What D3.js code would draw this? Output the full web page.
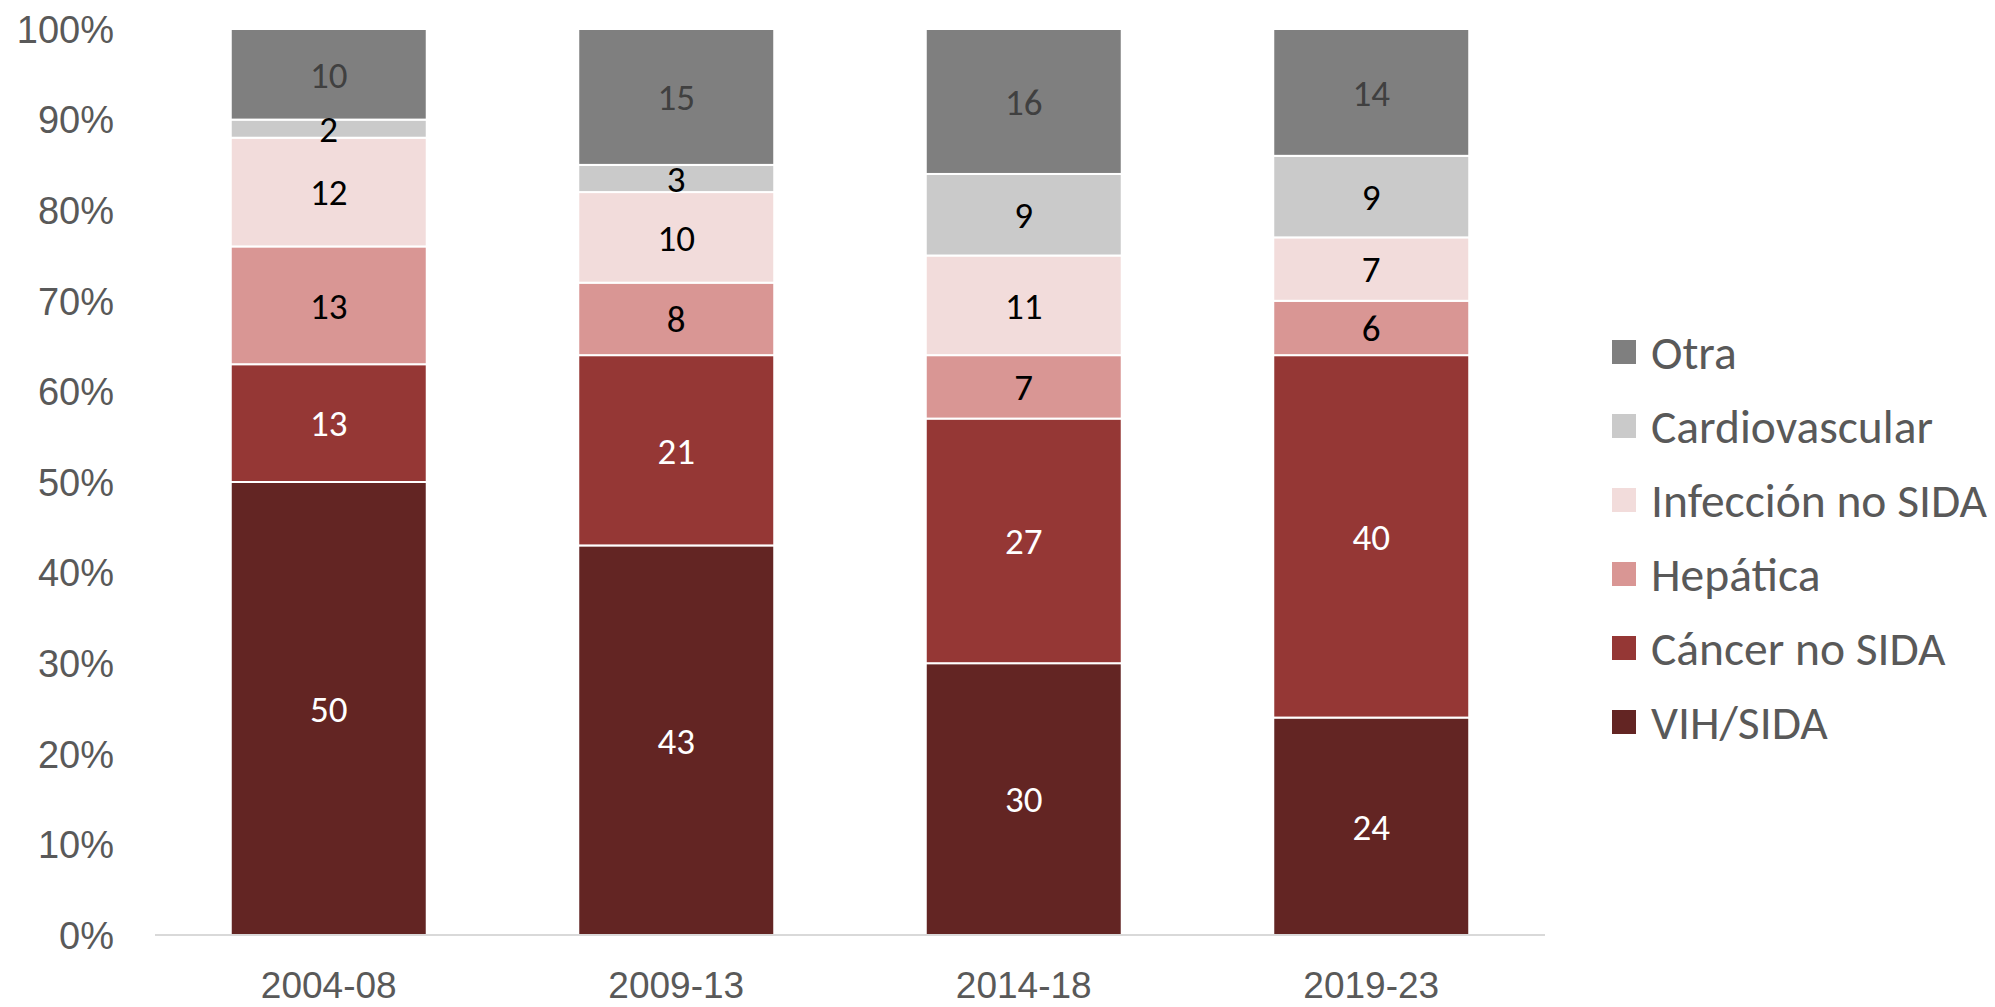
<!DOCTYPE html>
<html>
<head>
<meta charset="utf-8">
<script src="https://cdn.jsdelivr.net/npm/d3@7"></script>
<style>
  html, body { margin: 0; padding: 0; background: #fff; }
  svg { display: block; }
</style>
</head>
<body>
<svg id="chart" width="1995" height="1007"></svg>
<script>
const periods = ["2004-08", "2009-13", "2014-18", "2019-23"];
const seriesNames = ["VIH/SIDA", "Cáncer no SIDA", "Hepática", "Infección no SIDA", "Cardiovascular", "Otra"];
const vihSida      = [50, 43, 30, 24];
const cancerNoSida = [13, 21, 27, 40];
const hepatica     = [13, 8, 7, 6];
const infeccion    = [12, 10, 11, 7];
const cardio       = [2, 3, 9, 9];
const otra         = [10, 15, 16, 14];
const yTicks = [0, 10, 20, 30, 40, 50, 60, 70, 80, 90, 100];

const seriesValues = [vihSida, cancerNoSida, hepatica, infeccion, cardio, otra];
const colors = ["#632523", "#953735", "#D99694", "#F2DCDB", "#CACACA", "#7F7F7F"];
const labelColors = ["#FFFFFF", "#FFFFFF", "#000000", "#000000", "#000000", "#404040"];

const table = periods.map((p, i) => {
  const row = { period: p };
  seriesNames.forEach((s, k) => { row[s] = seriesValues[k][i]; });
  return row;
});

const svg = d3.select("#chart");
const margin = { left: 155, right: 450, top: 29, bottom: 72 };
const W = 1995, H = 1007;

const x = d3.scaleBand().domain(periods).range([margin.left, W - margin.right]).paddingInner(0.436).paddingOuter(0.218);
const y = d3.scaleLinear().domain([0, 100]).range([H - margin.bottom, margin.top]);

const stacked = d3.stack().keys(seriesNames)(table);

// Y axis labels
const yAxis = d3.axisLeft(y).tickValues(yTicks).tickFormat(d => d + "%").tickSize(0).tickPadding(0);
const yg = svg.append("g").attr("transform", "translate(114,0)").call(yAxis);
yg.select(".domain").remove();
yg.selectAll("text")
  .attr("font-family", "'Liberation Sans', Arial, sans-serif")
  .attr("font-size", 38)
  .attr("fill", "#595959")
  .attr("dy", "0.35em");

// Bars
const groups = svg.append("g").selectAll("g").data(stacked).join("g")
  .attr("fill", (d, i) => colors[i]);
groups.selectAll("rect").data(d => d).join("rect")
  .attr("x", d => x(d.data.period))
  .attr("width", x.bandwidth())
  .attr("y", d => y(d[1]))
  .attr("height", d => y(d[0]) - y(d[1]))
  .attr("stroke", "#FFFFFF")
  .attr("stroke-width", 2);

// X axis
const xAxis = d3.axisBottom(x).tickSize(0).tickPadding(0);
const xg = svg.append("g").attr("transform", `translate(0,${y(0)})`).call(xAxis);
xg.select(".domain").attr("stroke", "#D9D9D9").attr("stroke-width", 2)
  .attr("d", `M${margin.left},0H${W - margin.right}`);
xg.selectAll("text")
  .attr("font-family", "'Liberation Sans', Arial, sans-serif")
  .attr("font-size", 37)
  .attr("fill", "#595959")
  .attr("y", 63)
  .attr("dy", 0);

// Data labels
const lg = svg.append("g");
stacked.forEach((layer, k) => {
  lg.selectAll(null).data(layer).join("text")
    .attr("x", d => x(d.data.period) + x.bandwidth() / 2)
    .attr("y", d => y((d[0] + d[1]) / 2))
    .attr("dy", "0.36em")
    .attr("text-anchor", "middle")
    .attr("font-family", "Carlito, Calibri, Lato, sans-serif")
    .attr("font-size", 37)
    .attr("fill", labelColors[k])
    .text(d => d[1] - d[0]);
});

// Legend
const legendOrder = seriesNames.map((s, i) => i).reverse();
const leg = svg.append("g");
legendOrder.forEach((k, j) => {
  const cy = 352 + j * 74;
  leg.append("rect").attr("x", 1612).attr("y", cy - 12).attr("width", 24).attr("height", 24).attr("fill", colors[k]);
  leg.append("text").attr("x", 1651).attr("y", cy).attr("dy", "0.36em")
    .attr("font-family", "Carlito, Calibri, Lato, sans-serif")
    .attr("font-size", 47.5)
    .attr("fill", "#595959")
    .text(seriesNames[k]);
});
</script>
</body>
</html>
